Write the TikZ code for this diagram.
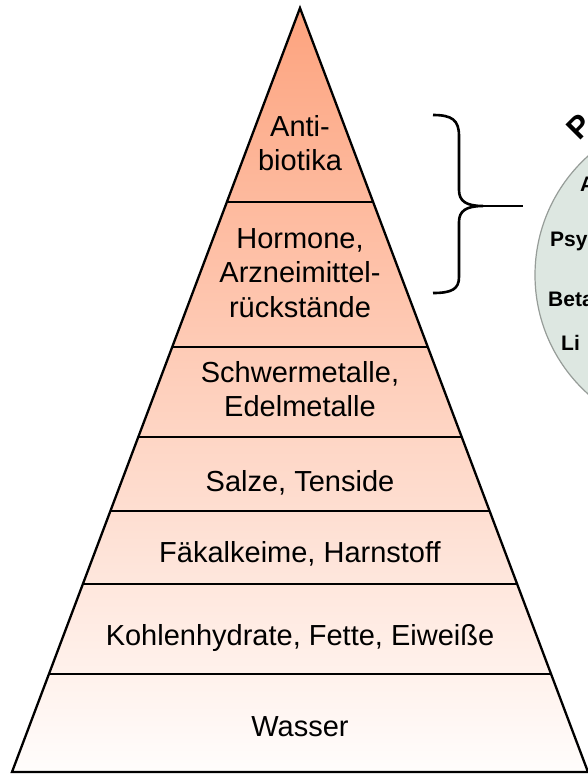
\documentclass[tikz,border=0pt]{standalone}
\usepackage{fontspec}
\setmainfont{Liberation Sans}
\usetikzlibrary{calc}
\definecolor{pyrtop}{RGB}{253,163,126}
\definecolor{pyrbot}{RGB}{255,253,252}
\definecolor{circfill}{RGB}{221,231,225}
\definecolor{circline}{RGB}{150,156,152}
\tikzset{
  band/.style={font=\fontsize{29}{34.5}\selectfont, align=center, inner sep=0pt},
  divider/.style={line width=1.1pt},
  outline/.style={line width=2.3pt, line join=miter},
  drug/.style={font=\fontsize{21}{24}\selectfont\bfseries, anchor=base west, inner sep=0pt},
  bracestyle/.style={line width=2.6pt, line cap=butt},
}
\begin{document}
\begin{tikzpicture}[x=1pt,y=-1pt]
\useasboundingbox (0,0) rectangle (587,774);
% circle (partly outside the picture)
\node[circle, draw=circline, fill=circfill, line width=1.2pt, minimum size=320pt, inner sep=0pt] (circ) at (695,275) {};
\node[font=\fontsize{31}{34}\selectfont\bfseries, rotate=45, inner sep=0pt] (dP) at (579,127) {P};
\node[drug] (dA) at (580,191) {A};
\node[drug] (dPsy) at (550,246) {Psy};
\node[drug] (dBeta) at (548,306) {Beta};
\node[drug] (dLi) at (561,350) {Li};
% pyramid
\coordinate (A) at (300,8);
\coordinate (BL) at (12,772);
\coordinate (BR) at (588,772);
\shade[top color=pyrtop, bottom color=pyrbot] (A) -- (BL) -- (BR) -- cycle;
\foreach \f/\n in {0.2539/1,0.4437/2,0.5615/3,0.6584/4,0.7539/5,0.8717/6}{
  \coordinate (l\n) at ($(A)!\f!(BL)$);
  \coordinate (r\n) at ($(A)!\f!(BR)$);
}
\draw[divider] (l1) -- (r1);
\draw[divider] (l2) -- (r2);
\draw[divider] (l3) -- (r3);
\draw[divider] (l4) -- (r4);
\draw[divider] (l5) -- (r5);
\draw[divider] (l6) -- (r6);
\draw[outline] (A) -- (BL) -- (BR) -- cycle;
% labels
\node[band] (t1) at (300,143) {Anti-\\biotika};
\node[band] (t2) at (300,273) {Hormone,\\Arzneimittel-\\rückstände};
\node[band] (t3) at (300,389) {Schwermetalle,\\Edelmetalle};
\node[band] (t4) at (300,483) {Salze, Tenside};
\node[band] (t5) at (300,554) {Fäkalkeime, Harnstoff};
\node[band] (t6) at (300,638) {Kohlenhydrate, Fette, Eiweiße};
\node[band] (t7) at (300,727) {Wasser};
% brace
\coordinate (btip) at (483,206);
\coordinate (lend) at (523,206);
\draw[bracestyle] (433,115) .. controls (452,115) and (459,120) .. (459,136) -- (459,190)
  .. controls (459,201) and (466,206) .. (btip)
  .. controls (466,206) and (459,211) .. (459,222) -- (459,277)
  .. controls (459,289) and (452,293) .. (433,293);
\draw[bracestyle] (btip) -- (lend);
\end{tikzpicture}
\end{document}
